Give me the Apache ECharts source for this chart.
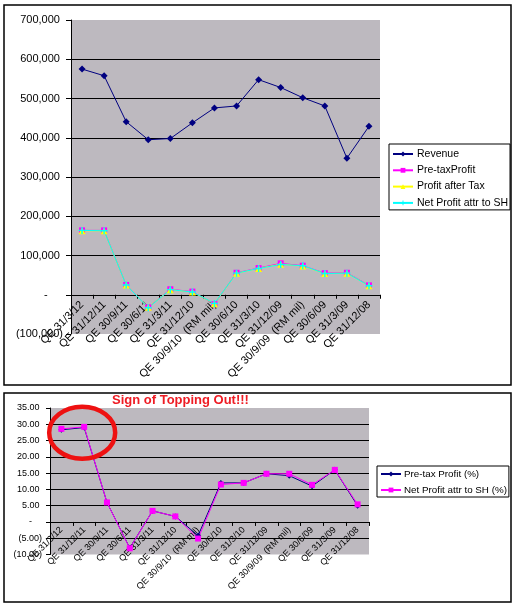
<!DOCTYPE html>
<html><head><meta charset="utf-8">
<script src="https://cdn.jsdelivr.net/npm/echarts@6/dist/echarts.min.js"></script>
<style>html,body{margin:0;padding:0;background:#fff}#c{width:517px;height:611px}</style>
</head><body><div id="c"></div>
<script>
var categories = ['QE 31/3/12','QE 31/12/11','QE 30/9/11','QE 30/6/11','QE 31/3/11','QE 31/12/10','QE 30/9/10  (RM mil)','QE 30/6/10','QE 31/3/10','QE 31/12/09','QE 30/9/09  (RM mil)','QE 30/6/09','QE 31/3/09','QE 31/12/08'];
var revenue   = [575000, 558000, 441000, 395000, 398000, 438000, 476000, 481000, 548000, 528000, 502000, 481000, 348000, 429000];
var pretax    = [164000, 164000, 25000, -32000, 14000, 8000, -24000, 56000, 68000, 80000, 74000, 55000, 56000, 24000];
var afterTax  = [163000, 163000, 25000, -32000, 13000, 7000, -23000, 55000, 67000, 78000, 73000, 54000, 55000, 23000];
var netProfit = [164000, 163000, 25000, -33000, 13000, 7000, -22000, 55000, 67000, 77000, 74000, 54000, 55000, 23000];
var pretaxPct = [28.3, 29.0, 6.0, -8.0, 3.4, 1.7, -4.2, 12.0, 12.0, 14.8, 14.2, 11.0, 16.0, 5.0];
var netPct    = [28.6, 29.2, 6.0, -8.1, 3.4, 1.7, -5.1, 11.5, 12.0, 14.8, 14.8, 11.4, 16.0, 5.4];
var titleText = 'Sign of Topping Out!!!';

var FONT = '"Liberation Sans", Arial, sans-serif';
var PLOT_BG = '#bdb9bf';

function fmtBig(v){
  if (v === 0) return '-     ';
  var s = Math.abs(v).toLocaleString('en-US');
  return v < 0 ? '(' + s + ')' : s + ' ';
}
function fmtPct(v){
  if (v === 0) return '-    ';
  var s = Math.abs(v).toFixed(2);
  return v < 0 ? '(' + s + ')' : s + ' ';
}

var crossPath = 'path://M4,0h2v4h4v2h-4v4h-2v-4h-4v-2h4z';

var chart = echarts.init(document.getElementById('c'), null, {renderer:'canvas'});
var option = {
  animation: false,
  backgroundColor: '#fff',
  textStyle: {fontFamily: FONT},
  grid: [
    {left: 71, top: 20, width: 309, height: 314, show: true, backgroundColor: PLOT_BG, borderWidth: 0},
    {left: 50, top: 408, width: 319, height: 146.5, show: true, backgroundColor: PLOT_BG, borderWidth: 0}
  ],
  xAxis: [
    {type:'category', gridIndex:0, data: categories, boundaryGap: true,
     axisLine:{onZero:true, lineStyle:{color:'#000', width:1}},
     axisTick:{show:true, length:4, lineStyle:{color:'#000'}},
     axisLabel:{rotate:45, fontSize:11, color:'#000', fontFamily:FONT, margin:-31, interval:0}},
    {type:'category', gridIndex:1, data: categories, boundaryGap: true,
     axisLine:{onZero:true, lineStyle:{color:'#000', width:1}},
     axisTick:{show:true, length:4, lineStyle:{color:'#000'}},
     axisLabel:{rotate:45, fontSize:9, color:'#000', fontFamily:FONT, margin:-26, interval:0}}
  ],
  yAxis: [
    {type:'value', gridIndex:0, min:-100000, max:700000, interval:100000,
     axisLine:{show:true, lineStyle:{color:'#000'}},
     axisTick:{show:true, length:5, lineStyle:{color:'#000'}},
     axisLabel:{fontSize:11, color:'#000', fontFamily:FONT, margin:8, formatter: fmtBig},
     splitLine:{show:true, showMinLine:false, showMaxLine:false, lineStyle:{color:'#000', width:1}}},
    {type:'value', gridIndex:1, min:-10, max:35, interval:5,
     axisLine:{show:true, lineStyle:{color:'#000'}},
     axisTick:{show:true, length:4, lineStyle:{color:'#000'}},
     axisLabel:{fontSize:9, color:'#000', fontFamily:FONT, margin:8, formatter: fmtPct},
     splitLine:{show:true, showMinLine:false, showMaxLine:false, lineStyle:{color:'#000', width:1}}}
  ],
  legend: [
    {orient:'vertical', left:389, top:144,
     data:['Revenue','Pre-taxProfit','Profit after Tax','Net Profit attr to SH'],
     backgroundColor:'#fff', borderColor:'#000', borderWidth:1, borderRadius:0,
     padding:[4,2,1,3], itemWidth:20, itemHeight:6, itemGap:4.3,
     textStyle:{fontSize:10.5, lineHeight:12, color:'#000', fontFamily:FONT, padding:[0,0,0,-1]}},
    {orient:'vertical', left:377, top:466,
     data:['Pre-tax Profit (%)','Net Profit attr to SH (%)'],
     backgroundColor:'#fff', borderColor:'#000', borderWidth:1, borderRadius:0,
     padding:[2,2,1,3], itemWidth:20, itemHeight:6, itemGap:4,
     textStyle:{fontSize:9.8, lineHeight:12, color:'#000', fontFamily:FONT, padding:[0,0,0,-2]}}
  ],
  series: [
    {name:'Revenue', type:'line', xAxisIndex:0, yAxisIndex:0, data:revenue,
     symbol:'diamond', symbolSize:7, color:'#000080', lineStyle:{width:1, color:'#000080'}, itemStyle:{color:'#000080'}},
    {name:'Pre-taxProfit', type:'line', xAxisIndex:0, yAxisIndex:0, data:pretax,
     symbol:'rect', symbolSize:6, color:'#ff00ff', lineStyle:{width:1, color:'#ff00ff'}, itemStyle:{color:'#ff00ff'}},
    {name:'Profit after Tax', type:'line', xAxisIndex:0, yAxisIndex:0, data:afterTax,
     symbol:'triangle', symbolSize:7, color:'#ffff00', lineStyle:{width:1, color:'#ffff00'}, itemStyle:{color:'#ffff00'}},
    {name:'Net Profit attr to SH', type:'line', xAxisIndex:0, yAxisIndex:0, data:netProfit,
     symbol:crossPath, symbolSize:7, color:'#00ffff', lineStyle:{width:1, color:'#00ffff'}, itemStyle:{color:'#00ffff'}},
    {name:'Pre-tax Profit (%)', type:'line', xAxisIndex:1, yAxisIndex:1, data:pretaxPct,
     symbol:'diamond', symbolSize:6, color:'#000080', lineStyle:{width:1, color:'#000080'}, itemStyle:{color:'#000080'}},
    {name:'Net Profit attr to SH (%)', type:'line', xAxisIndex:1, yAxisIndex:1, data:netPct,
     symbol:'rect', symbolSize:6, color:'#ff00ff', lineStyle:{width:1, color:'#ff00ff'}, itemStyle:{color:'#ff00ff'}}
  ]
};
chart.setOption(option);

// annotation ellipse anchored to the second data point of the lower chart
var p = chart.convertToPixel({xAxisIndex:1, yAxisIndex:1}, [1, 27.4]);
chart.setOption({graphic:[
  {id:'box1', type:'rect', z:-10, shape:{x:4, y:5, width:507, height:380}, style:{fill:'none', stroke:'#000', lineWidth:1.5}},
  {id:'box2', type:'rect', z:-10, shape:{x:4, y:393, width:507, height:209}, style:{fill:'none', stroke:'#000', lineWidth:1.5}},
  {id:'ttl', type:'text', z:10, x:112, y:394, style:{text:titleText, fill:'#ee1c24', font:'bold 13px ' + FONT}},
  {id:'ring', type:'ellipse', z:20, shape:{cx:p[0]-2, cy:p[1], rx:33, ry:26}, style:{fill:'none', stroke:'#ee1111', lineWidth:4.5}}
]});
</script>
</body></html>
